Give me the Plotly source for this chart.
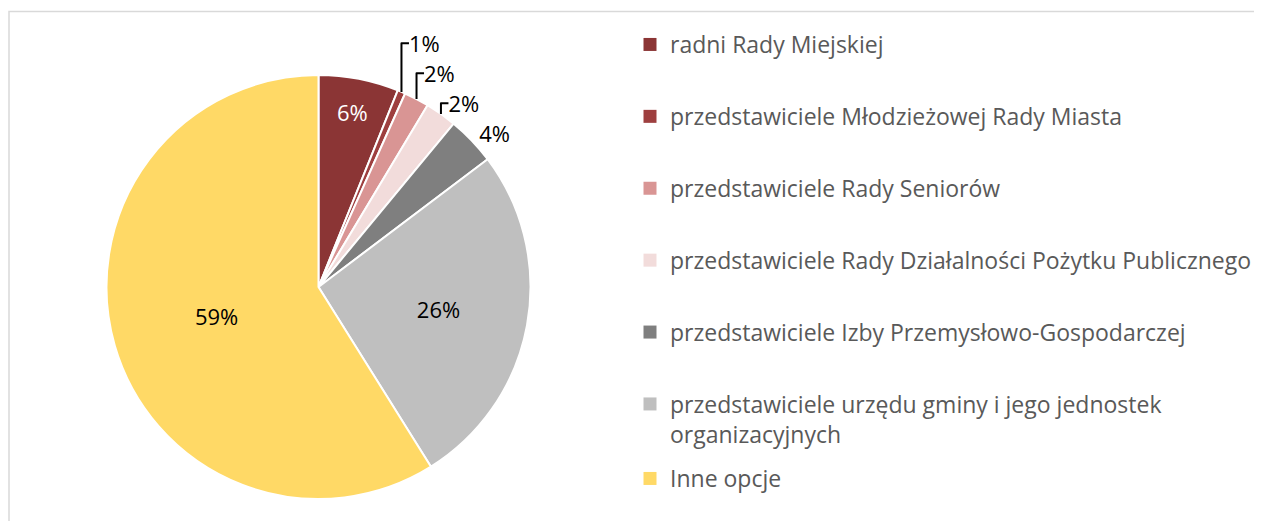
import plotly.graph_objects as go

categories = [
    "radni Rady Miejskiej",
    "przedstawiciele Młodzieżowej Rady Miasta",
    "przedstawiciele Rady Seniorów",
    "przedstawiciele Rady Działalności Pożytku Publicznego",
    "przedstawiciele Izby Przemysłowo-Gospodarczej",
    "przedstawiciele urzędu gminy i jego jednostek<br>organizacyjnych",
    "Inne opcje",
]
values = [6.1, 0.6, 1.9, 2.4, 3.7, 26.4, 58.9]
colors = ["#8B3535", "#9E3F3F", "#D99594", "#F2DCDB", "#7F7F7F", "#BFBFBF", "#FFD966"]
text_pos = ["inside", "outside", "outside", "outside", "outside", "inside", "inside"]
text_colors = ["#FFFFFF", "#000000", "#000000", "#000000", "#000000", "#000000", "#000000"]

W, H = 1262, 521
FONT = "Open Sans"

fig = go.Figure()
fig.add_trace(go.Pie(
    labels=categories,
    values=values,
    sort=False,
    direction="clockwise",
    rotation=0,
    marker=dict(colors=colors, line=dict(color="white", width=2)),
    texttemplate="%{percent:.0%}",
    textposition=text_pos,
    insidetextorientation="horizontal",
    textfont=dict(family=FONT, size=22, color=text_colors),
    showlegend=False,
    hoverinfo="label+percent",
    domain=dict(x=[98.5 / W, 522.5 / W], y=[30 / H, 454 / H]),
))

for i, (name, col) in enumerate(zip(categories, colors)):
    fig.add_trace(go.Scatter(
        x=[None], y=[None], mode="markers", name=name,
        marker=dict(symbol="square", size=13, color=col),
        legendgroup=f"g{i}",
        legend="legend2" if i == len(categories) - 1 else "legend",
        showlegend=True,
        hoverinfo="skip",
    ))

fig.update_layout(
    width=W, height=H,
    margin=dict(l=0, r=0, t=0, b=0),
    paper_bgcolor="white",
    plot_bgcolor="white",
    xaxis=dict(visible=False),
    yaxis=dict(visible=False),
    legend=dict(
        x=622 / W, y=1 - 15 / H, xanchor="left", yanchor="top",
        font=dict(family=FONT, size=23, color="#595959"),
        tracegroupgap=39, valign="top", bgcolor="rgba(0,0,0,0)",
    ),
    legend2=dict(
        x=622 / W, y=1 - 449 / H, xanchor="left", yanchor="top",
        font=dict(family=FONT, size=23, color="#595959"),
        valign="top", bgcolor="rgba(0,0,0,0)",
    ),
    shapes=[dict(type="rect", xref="paper", yref="paper",
                 x0=1 / W, x1=1.05, y0=-0.05, y1=1 - 3.5 / H,
                 line=dict(color="#D9D9D9", width=1.5), fillcolor="rgba(0,0,0,0)",
                 layer="below")],
)

fig.write_html("out.html")
